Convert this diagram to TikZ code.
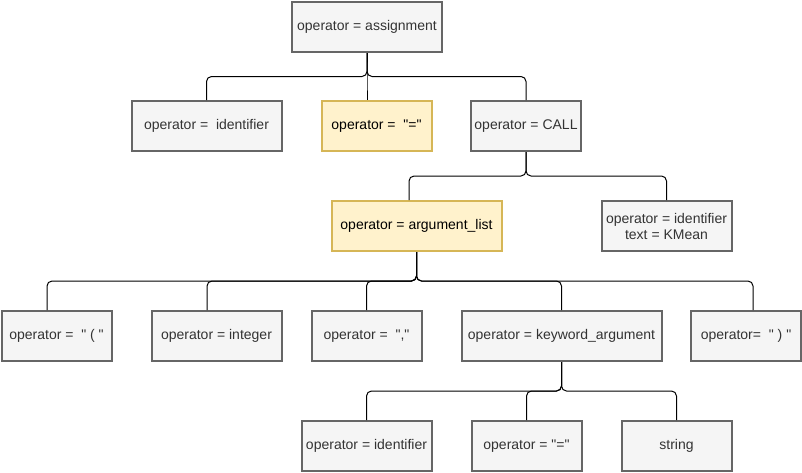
\documentclass[tikz,border=0pt]{standalone}
\usepackage{fontspec}
\setmainfont{Liberation Sans}
\usetikzlibrary{calc}
\definecolor{boxgray}{HTML}{F5F5F5}
\definecolor{linegray}{HTML}{666666}
\definecolor{txtgray}{HTML}{333333}
\definecolor{boxyellow}{HTML}{FFF2CC}
\definecolor{lineyellow}{HTML}{D6B656}
\newcommand{\qt}{\textquotedbl}
\tikzset{
	astnode/.style={draw=linegray, fill=boxgray, text=txtgray, line width=2pt, minimum height=50pt, inner sep=1pt, align=center, font=\fontsize{14}{16}\selectfont},
	hotnode/.style={astnode, draw=lineyellow, fill=boxyellow, text=black},
	edge/.style={draw=black, line width=1pt, rounded corners=5pt}
}
\begin{document}
\begin{tikzpicture}[x=1pt, y=-1pt]
	\useasboundingbox (0,0) rectangle (802,472);
	% root
	\node[astnode, minimum width=150pt] (assign) at (367,27) {operator = assignment};
	% second level
	\node[astnode, minimum width=150pt] (ident) at (206.5,126) {operator = \ identifier};
	\node[hotnode, minimum width=110pt] (eqsign) at (376.5,126) {operator = \ \qt=\qt};
	\node[astnode, minimum width=110pt] (call) at (526,126) {operator = CALL};
	% third level
	\node[hotnode, minimum width=170pt] (arglist) at (416.5,226) {operator = argument\_list};
	\node[astnode, minimum width=130pt] (kmean) at (666.5,226) {operator = identifier\\text = KMean};
	% fourth level
	\node[astnode, minimum width=110pt] (lparen) at (56.5,336) {operator = \ \qt{} ( \qt};
	\node[astnode, minimum width=130pt] (integer) at (216.5,336) {operator = integer};
	\node[astnode, minimum width=110pt] (comma) at (366.5,336) {operator = \ \qt,\qt};
	\node[astnode, minimum width=200pt] (kwarg) at (561.5,336) {operator = keyword\_argument};
	\node[astnode, minimum width=110pt] (rparen) at (746,336) {operator= \ \qt{} ) \qt};
	% leaves
	\node[astnode, minimum width=130pt] (ident2) at (366.5,446) {operator = identifier};
	\node[astnode, minimum width=110pt] (eqsign2) at (526.5,446) {operator = \qt=\qt};
	\node[astnode, minimum width=110pt] (string) at (676.5,446) {string};
	% edges
	\foreach \p/\c/\dx in {assign/ident/0, assign/eqsign/-9.5, assign/call/0, call/arglist/-7.5, call/kmean/0, arglist/lparen/-9.5, arglist/integer/-9.5, arglist/comma/0, arglist/kwarg/0, arglist/rparen/7, kwarg/ident2/0, kwarg/eqsign2/0, kwarg/string/0}
		\draw[edge] (\p.south) |- ($(\p.south)!.5!([xshift=\dx]\c.north)$) -| ([xshift=\dx]\c.north);
\end{tikzpicture}
\end{document}
